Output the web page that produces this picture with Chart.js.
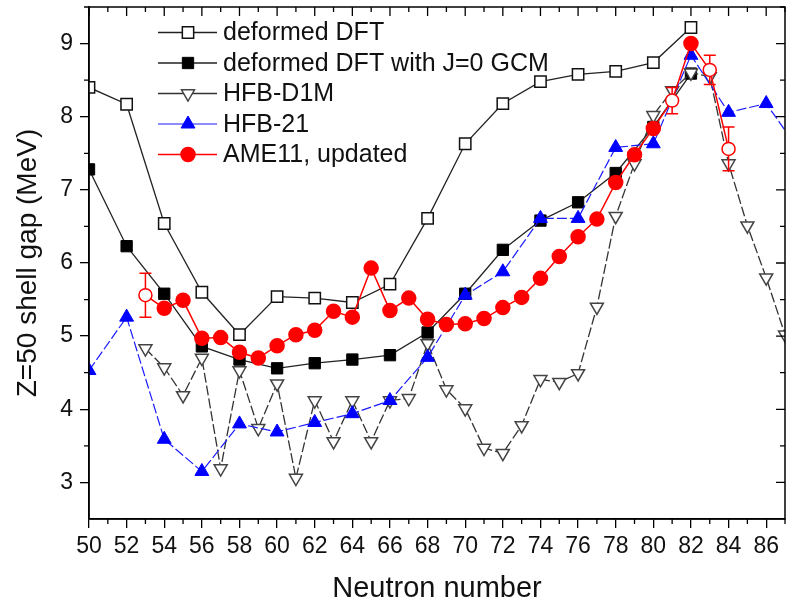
<!DOCTYPE html>
<html>
<head>
<meta charset="utf-8">
<script src="https://cdn.jsdelivr.net/npm/chart.js@4/dist/chart.umd.min.js"></script>
<style>
  html, body { margin: 0; padding: 0; background: #fff; }
  #wrap { width: 788px; height: 606px; }
</style>
</head>
<body>
<div id="wrap"><canvas id="chart" width="788" height="606"></canvas></div>
<script>
// axis ticks
const xTicks = [50, 52, 54, 56, 58, 60, 62, 64, 66, 68, 70, 72, 74, 76, 78, 80, 82, 84, 86];
const yTicks = [3, 4, 5, 6, 7, 8, 9];

// deformed DFT (open squares)
const dftN   = [50, 52, 54, 56, 58, 60, 62, 64, 66, 68, 70, 72, 74, 76, 78, 80, 82];
const dftGap = [8.40, 8.17, 6.54, 5.60, 5.02, 5.54, 5.52, 5.46, 5.71, 6.61, 7.63, 8.18, 8.48, 8.58, 8.62, 8.74, 9.22];

// deformed DFT with J=0 GCM (filled squares)
const gcmN   = [50, 52, 54, 56, 58, 60, 62, 64, 66, 68, 70, 72, 74, 76, 78, 80, 82];
const gcmGap = [7.28, 6.23, 5.58, 4.86, 4.68, 4.56, 4.63, 4.68, 4.74, 5.05, 5.58, 6.18, 6.58, 6.83, 7.23, 7.86, 8.59];

// HFB-D1M (open down triangles)
const d1mN   = [53, 54, 55, 56, 57, 58, 59, 60, 61, 62, 63, 64, 65, 66, 67, 68, 69, 70,
                71, 72, 73, 74, 75, 76, 77, 78, 79, 80, 81, 82, 83, 84, 85, 86, 87];
const d1mGap = [4.83, 4.57, 4.19, 4.70, 3.19, 4.53, 3.74, 4.35, 3.06, 4.12, 3.56, 4.12, 3.56, 4.12, 4.15, 4.90, 4.27, 4.01,
                3.47, 3.40, 3.78, 4.41, 4.37, 4.49, 5.40, 6.64, 7.36, 8.02, 8.36, 8.60, 8.55, 7.36, 6.51, 5.80, 5.02];

// HFB-21 (filled up triangles)
const hfbN   = [50, 52, 54, 56, 58, 60, 62, 64, 66, 68, 70, 72, 74, 76, 78, 80, 82, 84, 86, 88];
const hfbGap = [4.53, 5.26, 3.59, 3.15, 3.80, 3.69, 3.82, 3.94, 4.12, 4.71, 5.56, 5.88, 6.61, 6.61, 7.58, 7.63, 8.84, 8.06, 8.18, 7.45];

// AME11, updated (filled circles, open circles carry error bars)
const ameN   = [53, 54, 55, 56, 57, 58, 59, 60, 61, 62, 63, 64, 65, 66, 67, 68,
                69, 70, 71, 72, 73, 74, 75, 76, 77, 78, 79, 80, 81, 82, 83, 84];
const ameGap = [5.56, 5.38, 5.49, 4.97, 4.98, 4.78, 4.70, 4.87, 5.02, 5.08, 5.34, 5.26, 5.93, 5.35, 5.52, 5.23,
                5.16, 5.17, 5.24, 5.39, 5.53, 5.79, 6.09, 6.36, 6.60, 7.10, 7.48, 7.84, 8.22, 9.00, 8.64, 7.56];
const ameErr = [0.30, 0, 0, 0, 0, 0, 0, 0, 0, 0, 0, 0, 0, 0, 0, 0,
                0, 0, 0, 0, 0, 0, 0, 0, 0, 0, 0, 0, 0.18, 0, 0.20, 0.30];
const ameOpen = [53, 81, 83, 84];

const pts = (xs, ys) => xs.map((x, i) => ({ x: x, y: ys[i] }));

const FONT = "'Liberation Sans', Arial, sans-serif";

const datasets = [
  {
    label: 'deformed DFT',
    data: pts(dftN, dftGap),
    borderColor: '#222', borderWidth: 1.3,
    pointStyle: 'rect', pointRadius: 8, pointBorderWidth: 1.5,
    pointBackgroundColor: '#fff', pointBorderColor: '#111',
    order: 5
  },
  {
    label: 'deformed DFT with J=0 GCM',
    data: pts(gcmN, gcmGap),
    borderColor: '#222', borderWidth: 1.3,
    pointStyle: 'rect', pointRadius: 8, pointBorderWidth: 1,
    pointBackgroundColor: '#000', pointBorderColor: '#000',
    order: 4
  },
  {
    label: 'HFB-D1M',
    data: pts(d1mN, d1mGap),
    borderColor: '#333', borderWidth: 1.3, borderDash: [10, 3],
    pointStyle: 'triangle', pointRotation: 180, pointRadius: 7.5, pointBorderWidth: 1.5,
    pointBackgroundColor: '#fff', pointBorderColor: '#444',
    order: 3
  },
  {
    label: 'HFB-21',
    data: pts(hfbN, hfbGap),
    borderColor: '#1a1aff', borderWidth: 1.2, borderDash: [10, 3],
    pointStyle: 'triangle', pointRadius: 8, pointBorderWidth: 1,
    pointBackgroundColor: '#0000ff', pointBorderColor: '#0000ff',
    order: 2
  },
  {
    label: 'AME11, updated',
    data: pts(ameN, ameGap),
    errors: ameErr,
    borderColor: '#ff0000', borderWidth: 1.5,
    pointStyle: 'circle',
    pointRadius: ameN.map(n => ameOpen.includes(n) ? 6.5 : 7),
    pointBorderWidth: 1.5,
    pointBackgroundColor: ameN.map(n => ameOpen.includes(n) ? '#fff' : '#ff0000'),
    pointBorderColor: '#ff0000',
    order: 1
  }
];
datasets.forEach(d => { d.clip = 0; d.fill = false; d.tension = 0; d.showLine = true; });

// vertical error bars, drawn under the points of the dataset that has them
const errorBars = {
  id: 'errorBars',
  beforeDatasetDraw(chart, args) {
    const ds = chart.data.datasets[args.index];
    if (!ds.errors) return;
    const { ctx, scales: { x, y } } = chart;
    ctx.save();
    ctx.strokeStyle = ds.borderColor;
    ctx.lineWidth = 1.5;
    ds.data.forEach((p, i) => {
      const e = ds.errors[i];
      if (!e) return;
      const px = x.getPixelForValue(p.x);
      const top = y.getPixelForValue(p.y + e);
      const bot = y.getPixelForValue(p.y - e);
      ctx.beginPath();
      ctx.moveTo(px, top); ctx.lineTo(px, bot);
      ctx.moveTo(px - 6, top); ctx.lineTo(px + 6, top);
      ctx.moveTo(px - 6, bot); ctx.lineTo(px + 6, bot);
      ctx.stroke();
    });
    ctx.restore();
  }
};

// box frame, minor ticks and inward ticks on top/right
const frame = {
  id: 'frame',
  afterDatasetsDraw(chart) {
    const { ctx, chartArea: a, scales: { x, y } } = chart;
    ctx.save();
    ctx.strokeStyle = '#000';
    ctx.lineWidth = 1.5;
    ctx.strokeRect(a.left, a.top, a.right - a.left, a.bottom - a.top);
    ctx.lineWidth = 1.3;
    ctx.beginPath();
    for (let n = 50; n <= 87; n++) {
      const px = x.getPixelForValue(n);
      const major = xTicks.includes(n);
      const len = major ? 9 : 5;
      ctx.moveTo(px, a.top); ctx.lineTo(px, a.top + len);
      if (!major) { ctx.moveTo(px, a.bottom); ctx.lineTo(px, a.bottom + len); }
    }
    for (let v = 3; v <= 9.5; v += 0.5) {
      const py = y.getPixelForValue(v);
      const major = yTicks.includes(v);
      const len = major ? 9 : 5;
      ctx.moveTo(a.right, py); ctx.lineTo(a.right - len, py);
      if (!major) { ctx.moveTo(a.left, py); ctx.lineTo(a.left - len, py); }
    }
    ctx.stroke();
    ctx.restore();
  }
};

// legend in the upper left of the plot
const insideLegend = {
  id: 'insideLegend',
  afterDatasetsDraw(chart) {
    const ctx = chart.ctx;
    ctx.save();
    chart.data.datasets.forEach((ds, i) => {
      const yy = 32.5 + i * 30.5;
      ctx.strokeStyle = ds.borderColor;
      ctx.lineWidth = ds.borderWidth;
      ctx.setLineDash([]);
      ctx.beginPath();
      ctx.moveTo(158, yy); ctx.lineTo(217, yy);
      ctx.stroke();
      const bg = Array.isArray(ds.pointBackgroundColor) ? '#ff0000' : ds.pointBackgroundColor;
      const r = Array.isArray(ds.pointRadius) ? 7 : ds.pointRadius;
      ctx.fillStyle = bg;
      ctx.strokeStyle = ds.pointBorderColor;
      ctx.lineWidth = ds.pointBorderWidth;
      Chart.helpers.drawPoint(ctx, {
        pointStyle: ds.pointStyle, radius: r, rotation: ds.pointRotation || 0,
        borderWidth: ds.pointBorderWidth
      }, 188, yy);
      ctx.fillStyle = '#111';
      ctx.font = '25px ' + FONT;
      ctx.textBaseline = 'middle';
      ctx.textAlign = 'left';
      ctx.fillText(ds.label, 223, yy + 1);
    });
    ctx.restore();
  }
};

new Chart(document.getElementById('chart').getContext('2d'), {
  type: 'line',
  data: { datasets: datasets },
  options: {
    responsive: false,
    animation: false,
    devicePixelRatio: 1,
    layout: { autoPadding: false, padding: { top: 7, right: 3, left: 0, bottom: 0 } },
    plugins: { legend: { display: false }, tooltip: { enabled: false } },
    scales: {
      x: {
        type: 'linear', min: 50, max: 87,
        afterBuildTicks: s => { s.ticks = xTicks.map(v => ({ value: v })); },
        afterFit: s => { s.height = 87; s.paddingLeft = 0; s.paddingRight = 0; },
        ticks: { font: { family: FONT, size: 23 }, color: '#111', padding: 5, maxRotation: 0, autoSkip: false },
        grid: { drawOnChartArea: false, tickLength: 9, color: '#000', lineWidth: 1.3 },
        border: { color: '#000', width: 1.5 },
        title: { display: true, text: 'Neutron number', font: { family: FONT, size: 29 }, color: '#111', padding: { top: 0, bottom: 0 } }
      },
      y: {
        type: 'linear', min: 2.5, max: 9.5,
        afterBuildTicks: s => { s.ticks = yTicks.map(v => ({ value: v })); },
        afterFit: s => { s.width = 89; s.paddingTop = 0; s.paddingBottom = 0; },
        ticks: { font: { family: FONT, size: 23 }, color: '#111', padding: 7 },
        grid: { drawOnChartArea: false, tickLength: 9, color: '#000', lineWidth: 1.3 },
        border: { color: '#000', width: 1.5 },
        title: { display: true, text: 'Z=50 shell gap (MeV)', font: { family: FONT, size: 28 }, color: '#111', padding: { top: 11, bottom: 0 } }
      }
    }
  },
  plugins: [errorBars, frame, insideLegend]
});
</script>
</body>
</html>
